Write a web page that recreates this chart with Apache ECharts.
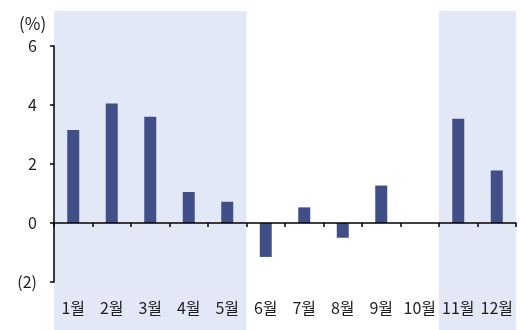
<!DOCTYPE html>
<html>
<head>
<meta charset="utf-8">
<script src="https://cdn.jsdelivr.net/npm/echarts@6/dist/echarts.min.js"></script>
<style>
  html, body { margin: 0; padding: 0; background: #fff; }
  #chart { width: 521px; height: 330px; }
</style>
</head>
<body>
<div id="chart"></div>
<script>
// Monthly values (%)
const months = ['1월', '2월', '3월', '4월', '5월', '6월', '7월', '8월', '9월', '10월', '11월', '12월'];
const values = [3.15, 4.05, 3.6, 1.05, 0.72, -1.15, 0.53, -0.5, 1.27, 0, 3.53, 1.78];
// Months highlighted with a background band
const highlighted = [1, 1, 1, 1, 1, 0, 0, 0, 0, 0, 1, 1];
const yTicks = [-2, 0, 2, 4, 6];

const font = '"Noto Sans CJK KR", "Noto Sans", sans-serif';
const textColor = '#1e1e1e';
const bandColor = '#e3e8f7';

// Turn runs of highlighted months into [start, end) index ranges for markArea
const bandAreas = [];
highlighted.forEach((h, i) => {
  if (!h) return;
  const last = bandAreas[bandAreas.length - 1];
  if (last && last[1].xAxis === i) last[1].xAxis = i + 1;
  else bandAreas.push([{ xAxis: i }, { xAxis: i + 1 }]);
});

const chart = echarts.init(document.getElementById('chart'), null, { renderer: 'canvas' });

chart.setOption({
  animation: false,
  title: {
    text: '(%)',
    left: 14,
    top: 10,
    textStyle: { fontFamily: font, fontSize: 17, fontWeight: 'normal', color: textColor }
  },
  grid: [
    { left: 54, right: 5, top: 46, bottom: 48 },
    { left: 54, right: 5, top: 11, bottom: 0 }
  ],
  xAxis: [
    {
      type: 'category', gridIndex: 0, data: months,
      axisLine: { onZero: true, lineStyle: { color: '#000', width: 1.5 } },
      axisTick: { show: true, length: 4, lineStyle: { color: '#000', width: 1.5 } },
      axisLabel: { show: false },
      z: 10
    },
    {
      type: 'category', gridIndex: 0, data: months, position: 'bottom',
      axisLine: { show: false, onZero: false },
      axisTick: { show: false },
      axisLabel: { margin: 18, fontFamily: font, fontSize: 16, color: textColor, interval: 0 },
      z: 10
    },
    {
      type: 'value', gridIndex: 1, min: 0, max: months.length, show: false
    }
  ],
  yAxis: [
    {
      type: 'value', gridIndex: 0, min: -2, max: 6, interval: 2,
      axisLine: { show: true, lineStyle: { color: '#000', width: 1.5 } },
      axisTick: { show: true, length: 4, lineStyle: { color: '#000', width: 1.5 } },
      splitLine: { show: false },
      axisLabel: {
        margin: 17, fontFamily: font, fontSize: 16, color: textColor,
        formatter: v => yTicks.includes(v) ? (v < 0 ? '(' + (-v) + ')' : String(v)) : ''
      },
      z: 10
    },
    {
      type: 'value', gridIndex: 1, min: 0, max: 1, show: false
    }
  ],
  series: [
    {
      type: 'line', xAxisIndex: 2, yAxisIndex: 1, data: [],
      silent: true, z: -1,
      markArea: {
        silent: true,
        itemStyle: { color: bandColor },
        data: bandAreas
      }
    },
    {
      type: 'bar', xAxisIndex: 0, yAxisIndex: 0,
      data: values, barWidth: 12,
      itemStyle: { color: '#404f87' }, z: 3
    }
  ]
});
</script>
</body>
</html>
